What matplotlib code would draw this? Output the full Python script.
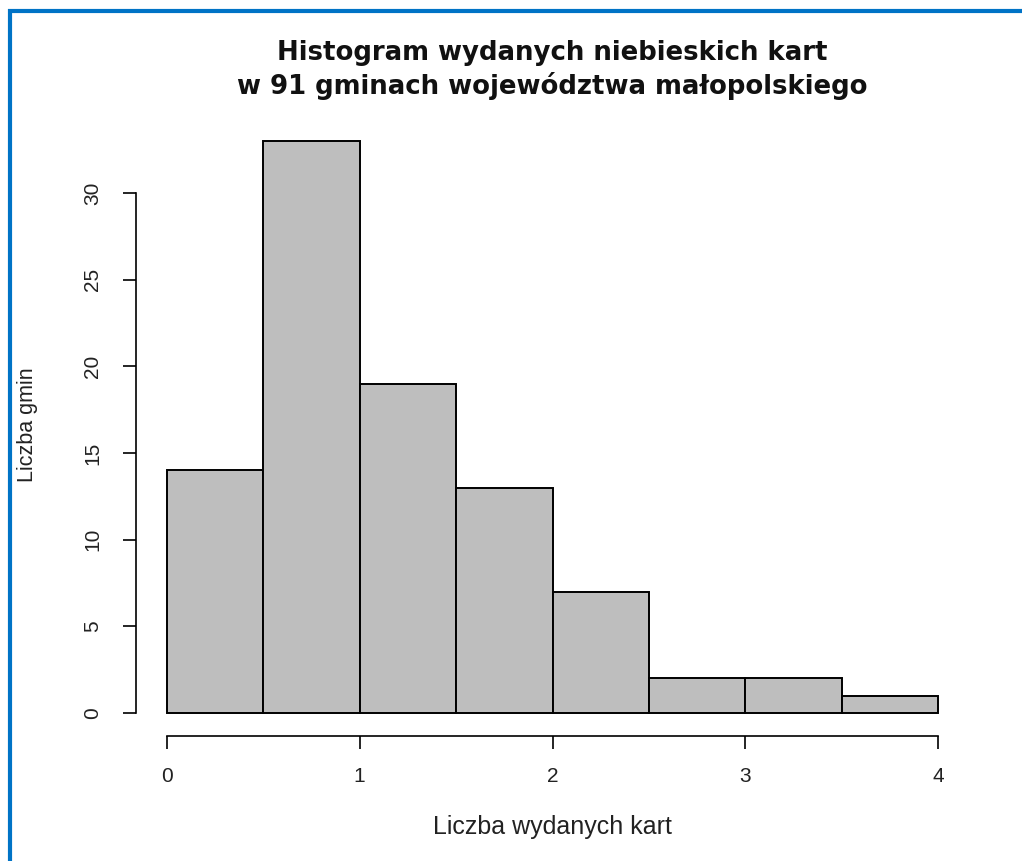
"""histogram of blue cards issued in 91 communes"""

import matplotlib.pyplot as plt
from matplotlib.lines import Line2D

plt.rcParams["font.family"] = ["Liberation Sans", "DejaVu Sans"]

bin_edges = [0.0, 0.5, 1.0, 1.5, 2.0, 2.5, 3.0, 3.5, 4.0]
counts = [14, 33, 19, 13, 7, 2, 2, 1]
x_ticks = [0, 1, 2, 3, 4]
y_ticks = [0, 5, 10, 15, 20, 25, 30]

title = "Histogram wydanych niebieskich kart\nw 91 gminach województwa małopolskiego"
x_label = "Liczba wydanych kart"
y_label = "Liczba gmin"

W, H = 1022, 861
fig = plt.figure(figsize=(W / 100, H / 100), dpi=100)

# plot region in pixels: left 136, right 969, top 118, bottom 736
ax = fig.add_axes([136 / W, 1 - 736 / H, (969 - 136) / W, (736 - 118) / H])

lefts = bin_edges[:-1]
widths = [b - a for a, b in zip(bin_edges[:-1], bin_edges[1:])]
ax.bar(lefts, counts, width=widths, align="edge",
       color="#bebebe", edgecolor="black", linewidth=1.4)

ax.set_xlim(-0.16, 4.16)
ax.set_ylim(-0.04 * max(counts), max(counts) * 1.04)

for side in ("top", "right"):
    ax.spines[side].set_visible(False)
ax.spines["left"].set_bounds(y_ticks[0], y_ticks[-1])
ax.spines["bottom"].set_bounds(x_ticks[0], x_ticks[-1])
ax.spines["left"].set_linewidth(1.2)
ax.spines["bottom"].set_linewidth(1.2)

ax.set_xticks(x_ticks)
ax.set_yticks(y_ticks)
ax.tick_params(axis="both", length=9.5, width=1.2, labelsize=15,
               color="black", labelcolor="#222222")
ax.tick_params(axis="x", pad=12.5)
ax.tick_params(axis="y", pad=15)
for lab in ax.get_yticklabels():
    lab.set_rotation(90)
    lab.set_va("center")

fig.text(552 / W, 1 - 70 / H, title, ha="center", va="center",
         family="DejaVu Sans", fontsize=18.7, fontweight="bold",
         linespacing=1.27, color="#111111")
fig.text(552 / W, 1 - 827 / H, x_label, ha="center", va="center",
         fontsize=18, color="#222222")
fig.text(28 / W, 1 - 425 / H, y_label, ha="center", va="center",
         rotation=90, fontsize=15.5, color="#222222")

# blue frame along the top and left edge
blue = "#0073c6"
fig.add_artist(Line2D([10 / W, 10 / W], [0, 1 - 9 / H], color=blue,
                      linewidth=3, transform=fig.transFigure,
                      solid_capstyle="butt"))
fig.add_artist(Line2D([8 / W, 1], [1 - 11 / H, 1 - 11 / H], color=blue,
                      linewidth=3, transform=fig.transFigure,
                      solid_capstyle="butt"))

fig.savefig("out.png", dpi=100, facecolor="white")
